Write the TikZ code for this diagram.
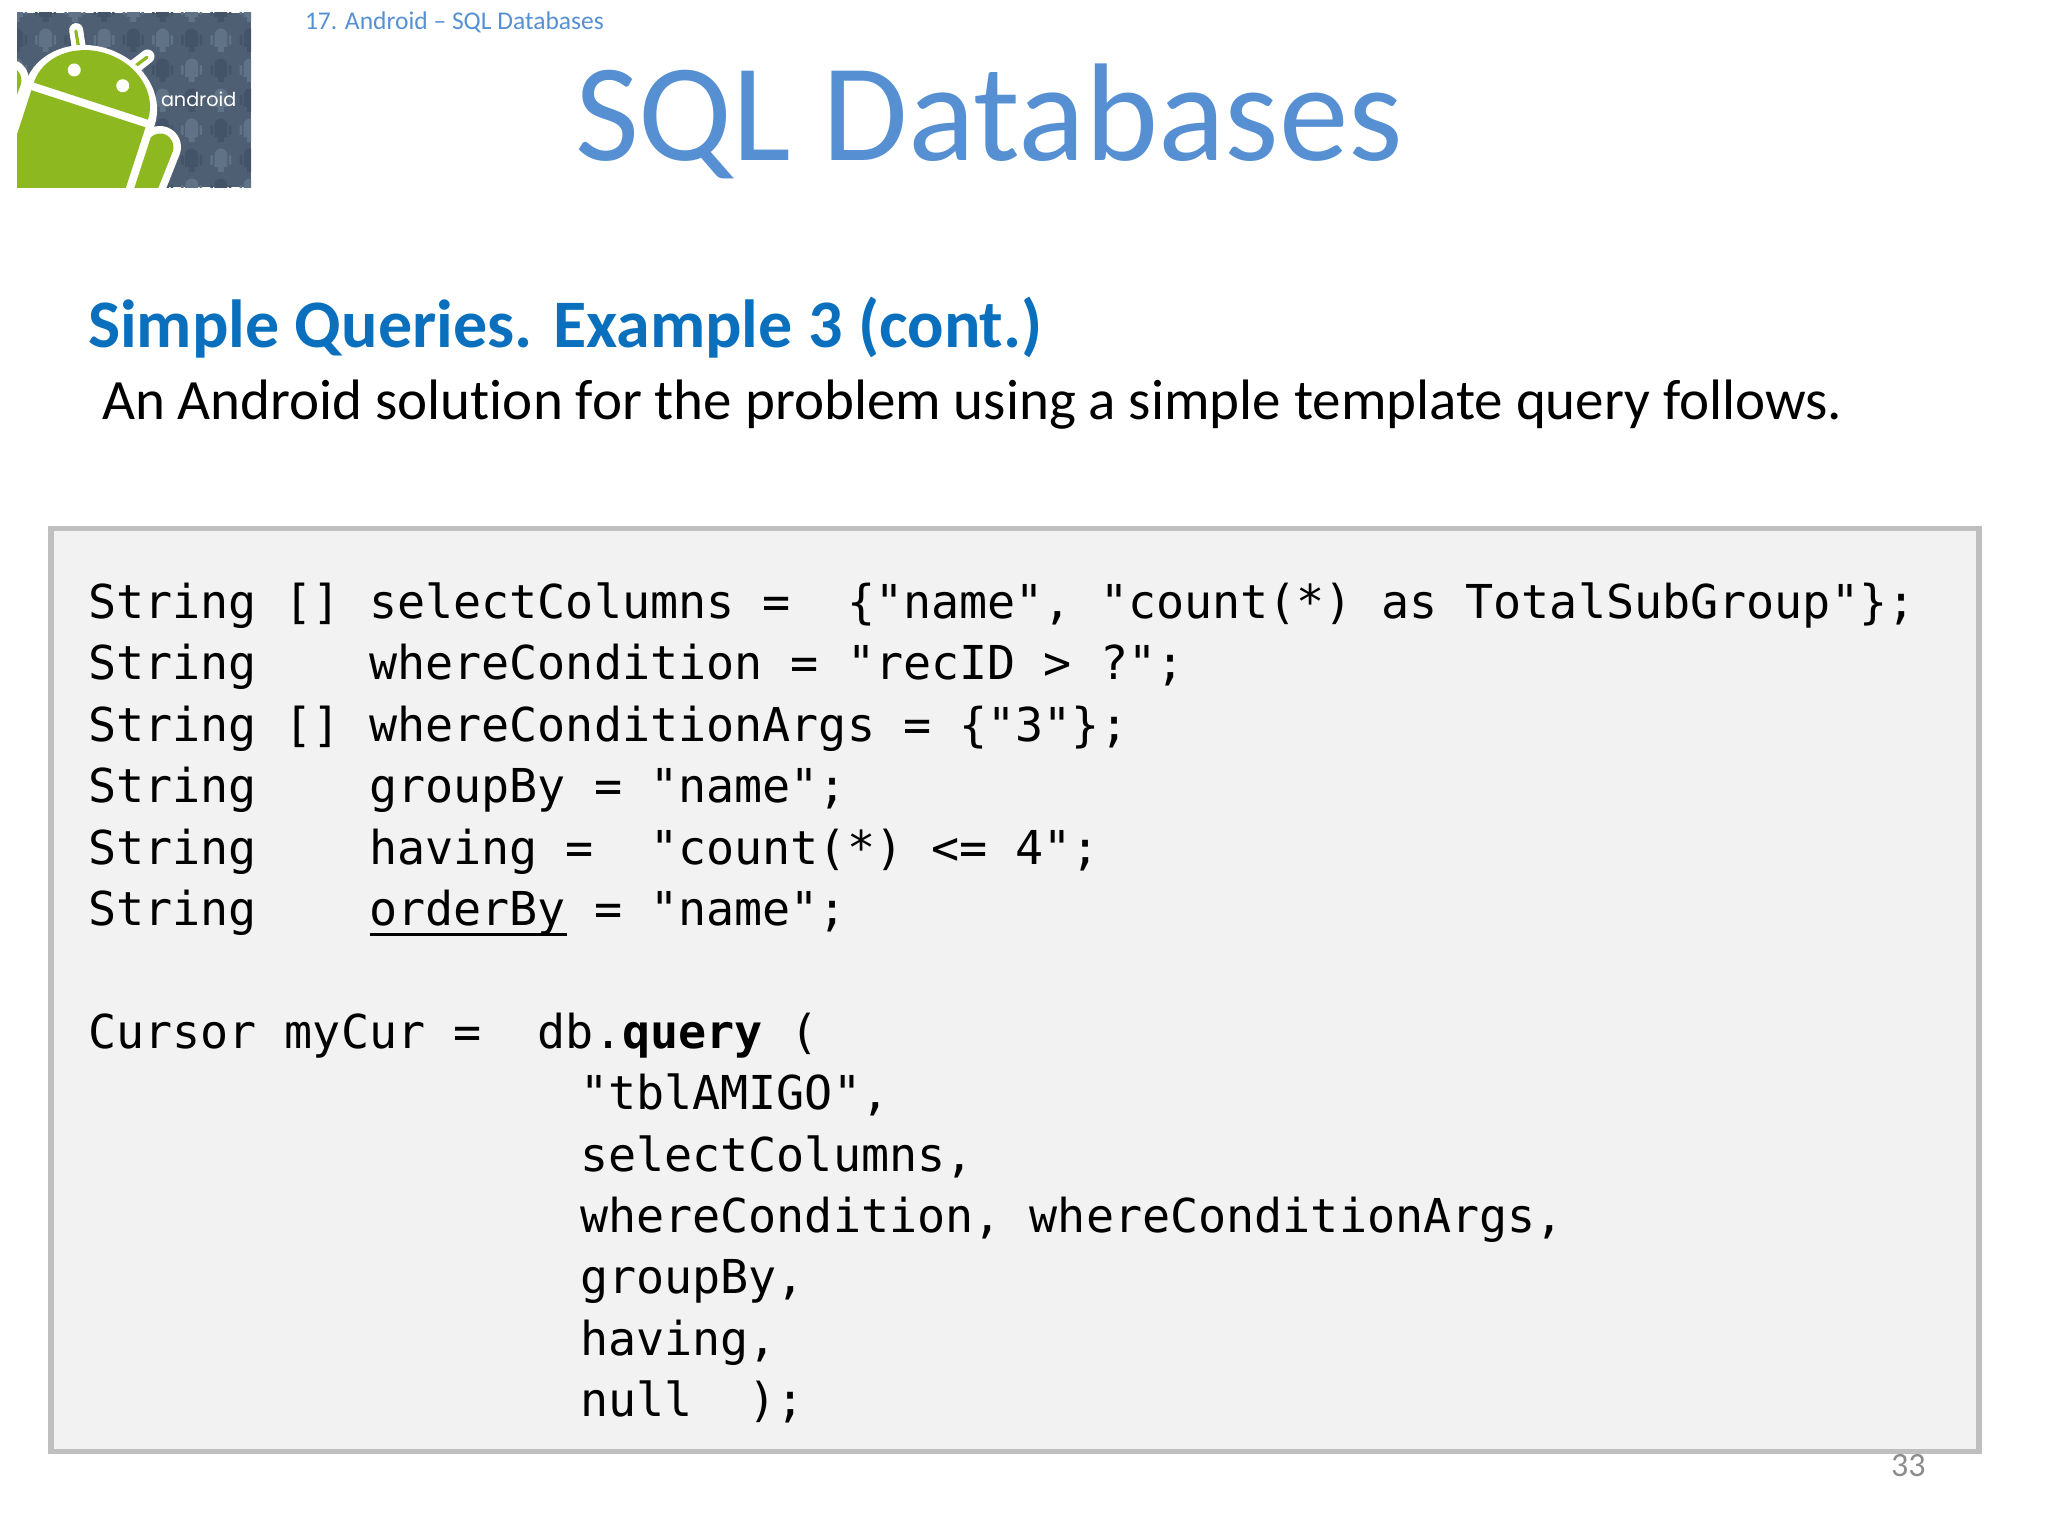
\documentclass[tikz,border=0pt]{standalone}
\usepackage{fontspec}
\setmainfont[Ligatures=NoCommon]{Carlito}
\newfontfamily\codefont{DejaVu Sans Mono}
\newfontfamily\logofont{Poppins}
\definecolor{titleblue}{HTML}{5690D3}
\definecolor{headblue}{HTML}{0A70BE}
\definecolor{boxline}{HTML}{BFBFBF}
\definecolor{boxfill}{HTML}{F2F2F2}
\definecolor{pagegrey}{HTML}{8C8C8C}
\definecolor{slate}{HTML}{4E5F73}
\definecolor{slatelight}{HTML}{607286}
\definecolor{slatedark}{HTML}{445468}
\definecolor{droid}{HTML}{8DB81F}
\tikzset{
  txt/.style={anchor=base west,inner sep=0pt,outer sep=0pt},
  codeline/.style={txt,font=\codefont\fontsize{23.35pt}{23.35pt}\selectfont,text=black},
  minirobot/.pic={
    \fill[pic actions] (-6.5,-5) arc[start angle=180,end angle=360,radius=6.5] -- (6.5,7) -- (3,7) -- (3,12) -- (-3,12) -- (-3,7) -- (-6.5,7) -- cycle;
    \fill[pic actions,rounded corners=0.5pt] (-10.5,-5) rectangle (-8,5);
    \fill[pic actions,rounded corners=0.5pt] (8,-5) rectangle (10.5,5);
  }
}
\begin{document}
\begin{tikzpicture}[x=0.5pt,y=-0.5pt]
\useasboundingbox (0,0) rectangle (2048,1536);
% logo
\begin{scope}
\clip (17,13) rectangle (251,187);
\fill[slate] (17,13) rectangle (251,187);
\foreach \r in {-1,...,5}{
  \foreach \c in {-1,...,7}{
    \pgfmathsetmacro{\px}{45.7+29.2*\c}
    \pgfmathsetmacro{\py}{40+30*\r}
    \pgfmathtruncatemacro{\pick}{mod(\c+\r+4,2)}
    \ifnum\pick=0
      \path[fill=slatelight] pic at (\px,\py) {minirobot};
    \else
      \path[fill=slatedark] pic at (\px,\py) {minirobot};
    \fi
  }
}
% arms
\draw[white,line width=21pt,line cap=round] (160,147) -- (137,205);
\draw[droid,line width=13.5pt,line cap=round] (160,147) -- (137,205);
\draw[white,line width=21pt,line cap=round] (8,80) -- (-10,130);
\draw[droid,line width=13.5pt,line cap=round] (8,80) -- (-10,130);
\begin{scope}[shift={(90,104)},rotate=-18]
  % antennas
  \draw[white,line width=7pt,line cap=round] (-26,-46) -- (-36,-66);
  \draw[white,line width=7pt,line cap=round] (28.5,-46) -- (40,-63);
  \draw[droid,line width=1.6pt,line cap=round] (-26,-46) -- (-36,-65);
  \draw[droid,line width=1.6pt,line cap=round] (28.5,-46) -- (39.7,-62);
  % white silhouette
  \fill[white] (-68,0) arc[start angle=180,end angle=360,x radius=68,y radius=58] -- (68,200) -- (-68,200) -- cycle;
  % dome, body
  \fill[droid] (-60,-3) arc[start angle=180,end angle=360,x radius=60,y radius=50] -- cycle;
  \fill[droid] (-60,5) rectangle (60,200);
  % eyes
  \fill[white] (-25.5,-27.5) circle[radius=6.5];
  \fill[white] (25.5,-27.5) circle[radius=6.5];
\end{scope}
\node[txt,font=\logofont\fontsize{9.6pt}{9.6pt}\selectfont,text=white] (logotext) at (161,106) {android};
\end{scope}
% header
\node[txt,font=\fontsize{12.76pt}{12.76pt}\selectfont,text=titleblue] (crumb) at (305,30) {17. Android – SQL Databases};
\node[txt,font=\fontsize{69.6pt}{69.6pt}\selectfont,text=titleblue] (title) at (575,160) {SQL Databases};
\node[txt,font=\bfseries\fontsize{34pt}{34pt}\selectfont,text=headblue] (heading) at (88,347.5) {Simple Queries. Example 3 (cont.)};
\node[txt,font=\fontsize{28.5pt}{28.5pt}\selectfont,text=black] (intro) at (102,419.5) {An Android solution for the problem using a simple template query follows.};
% code box
\node[draw=boxline,fill=boxfill,line width=2.75pt,minimum width=964pt,minimum height=461.5pt,inner sep=0pt,outer sep=0pt,anchor=north west] (codebox) at (51,528.5) {};
\node[codeline] (c1) at (88,618.5) {String~[]~selectColumns~=~~\{"name",~"count(*)~as~TotalSubGroup"\};};
\node[codeline] (c2) at (88,679.9) {String~~~~whereCondition~=~"recID~>~?";};
\node[codeline] (c3) at (88,741.3) {String~[]~whereConditionArgs~=~\{"3"\};};
\node[codeline] (c4) at (88,802.7) {String~~~~groupBy~=~"name";};
\node[codeline] (c5) at (88,864.1) {String~~~~having~=~~"count(*)~<=~4";};
\node[codeline] (c6) at (88,925.5) {String~~~~orderBy~=~"name";};
\draw[black,line width=1.75pt] (c6.base west) ++(282,9) coordinate (ulstart) -- ++(197,0) coordinate (ulend);
\node[codeline] (c7) at (88,1048.3) {Cursor~myCur~=~~db.\textbf{query}~(};
\node[codeline] (c8) at (580,1109.7) {"tblAMIGO",};
\node[codeline] (c9) at (580,1171.1) {selectColumns,};
\node[codeline] (c10) at (580,1232.5) {whereCondition,~whereConditionArgs,};
\node[codeline] (c11) at (580,1293.9) {groupBy,};
\node[codeline] (c12) at (580,1355.3) {having,};
\node[codeline] (c13) at (580,1416.7) {null~~);};
\node[txt,font=\fontsize{17pt}{17pt}\selectfont,text=pagegrey] (pagenum) at (1891,1476) {33};
\end{tikzpicture}
\end{document}
